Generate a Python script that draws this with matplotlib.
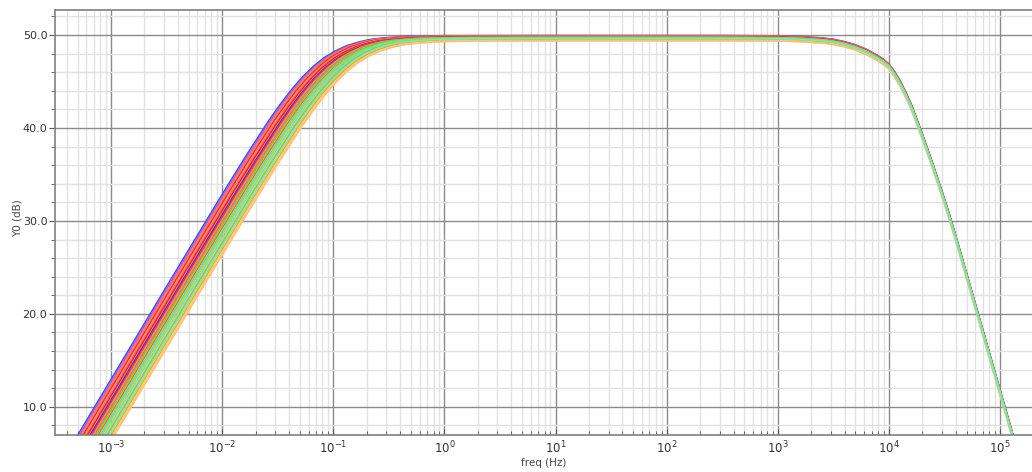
import numpy as np
import matplotlib.pyplot as plt
from matplotlib.ticker import LogLocator, MultipleLocator, FormatStrFormatter, NullFormatter

# leftmost run, low-frequency side (log10 freq, dB)
low_logf = [-3.6, -3.4, -3.2, -3.0, -2.75, -2.5, -2.25, -2.0, -1.8, -1.6, -1.5,
            -1.4, -1.3, -1.2, -1.1, -1.0, -0.9, -0.8, -0.7, -0.6, -0.5, -0.4,
            -0.3, 0.0, 0.8]
low_db = [1.25, 5.25, 9.25, 13.25, 18.25, 23.25, 28.2, 33.15, 37.0, 40.7, 42.4,
          43.96, 45.35, 46.53, 47.48, 48.2, 48.75, 49.12, 49.4, 49.55, 49.65, 49.73,
          49.77, 49.83, 49.85]

# high-frequency roll-off, shared by all runs
high_logf = [2.5, 3.0, 3.2, 3.4, 3.5, 3.6, 3.7, 3.8, 3.9, 3.95, 4.0, 4.05, 4.1,
             4.15, 4.2, 4.26, 4.3, 4.35, 4.4, 4.45, 4.5, 4.55, 4.6, 4.67, 4.73,
             4.79, 4.85, 4.91, 4.97, 5.035, 5.1, 5.15, 5.3]
high_db = [49.85, 49.82, 49.75, 49.6, 49.45, 49.2, 48.85, 48.35, 47.7, 47.3, 46.8,
           46.0, 45.0, 43.8, 42.5, 40.6, 39.3, 37.6, 35.9, 34.1, 32.3, 30.4, 28.4,
           25.5, 23.0, 20.5, 18.0, 15.5, 13.0, 10.3, 7.6, 5.5, -0.8]

# monte carlo runs: low corner shift (decades), passband offset (dB), colour
# (green / cyan runs listed last so they sit on top in the roll-off)
run_shift = [0.02, 0.031, 0.04, 0.049, 0.06, 0.068, 0.077, 0.088, 0.095, 0.104,
             0.113, 0.122, 0.13, 0.139, 0.148, 0.157, 0.166, 0.183, 0.192,
             0.201, 0.218, 0.236, 0.253, 0.262, 0.279, 0.297, 0.305, 0.313,
             0.322, 0.175, 0.209, 0.227, 0.244, 0.27, 0.288]
run_gain = [0.1, 0.05, 0.02, 0.06, -0.02, 0.03, -0.05, 0.0, -0.08, -0.03,
            -0.1, -0.12, -0.06, -0.15, -0.1, -0.18, -0.2, -0.22, -0.25,
            -0.2, -0.3, -0.32, -0.3, -0.38, -0.4, -0.37, -0.45, -0.44,
            -0.48, -0.1, -0.15, -0.12, -0.2, -0.18, -0.22]
run_color = ['#3a4aff', '#8a60ff', '#ff50d0', '#ff8c00', '#ff30ff', '#ff2a2a',
             '#ffa040', '#ff8080', '#ff40a0', '#ff1a1a', '#ff8c00', '#2020e0',
             '#9a30e0', '#ff2a2a', '#ffa000', '#ff50c8', '#ff7f10',
             '#ffa020', '#ff3030', '#ffc830', '#ff9400', '#ffb060', '#ffd040',
             '#ff9a30', '#ffc080', '#ffa000', '#e0d070', '#ffcc90', '#ffc070',
             '#70d040', '#40e0e0', '#a0e040', '#60e8d0', '#80d060', '#70f0c0']

fig = plt.figure(figsize=(10.32, 4.72), dpi=100)
ax = fig.add_axes([0.0533, 0.0784, 0.9467, 0.9004])

low_logf = np.array(low_logf)
low_db = np.array(low_db)
high_logf = np.array(high_logf)
high_db = np.array(high_db)

for s, g, c in zip(run_shift, run_gain, run_color):
    f = np.concatenate([10 ** (low_logf + s), 10 ** high_logf])
    y = np.concatenate([low_db + g, high_db + g])
    ax.plot(f, y, color=c, lw=1.1)

ax.set_xscale('log')
ax.set_xlim(10 ** -3.504, 10 ** 5.288)
ax.set_ylim(6.97, 52.69)

ax.set_xticks([10.0 ** k for k in range(-3, 6)])
ax.xaxis.set_minor_locator(LogLocator(base=10, subs=np.arange(2, 10), numticks=20))
ax.xaxis.set_minor_formatter(NullFormatter())
ax.yaxis.set_major_locator(MultipleLocator(10))
ax.yaxis.set_minor_locator(MultipleLocator(2))
ax.yaxis.set_major_formatter(FormatStrFormatter('%.1f'))

ax.set_axisbelow(True)
ax.grid(which='minor', color='#e2e2e2', lw=1.0)
ax.grid(which='major', color='#8a8a8a', lw=1.0)

ax.tick_params(axis='x', which='both', direction='in', colors='#555555',
               labelcolor='#333333', labelsize=8.5)
ax.tick_params(axis='x', which='major', length=4)
ax.tick_params(axis='x', which='minor', length=3)
ax.tick_params(axis='y', which='both', direction='out', colors='#555555',
               labelcolor='#333333', labelsize=8, pad=1.5)
ax.tick_params(axis='y', which='major', length=4)
ax.tick_params(axis='y', which='minor', length=3)

for side in ['left', 'bottom', 'top']:
    ax.spines[side].set_color('#808080')
    ax.spines[side].set_linewidth(1.2)
ax.spines['right'].set_visible(False)

ax.set_xlabel('freq (Hz)', fontsize=7.5, color='#444444', labelpad=1)
ax.set_ylabel('Y0 (dB)', fontsize=7.5, color='#444444')
ax.yaxis.set_label_coords(-0.033, 0.51)

plt.savefig('out.png', dpi=100)
